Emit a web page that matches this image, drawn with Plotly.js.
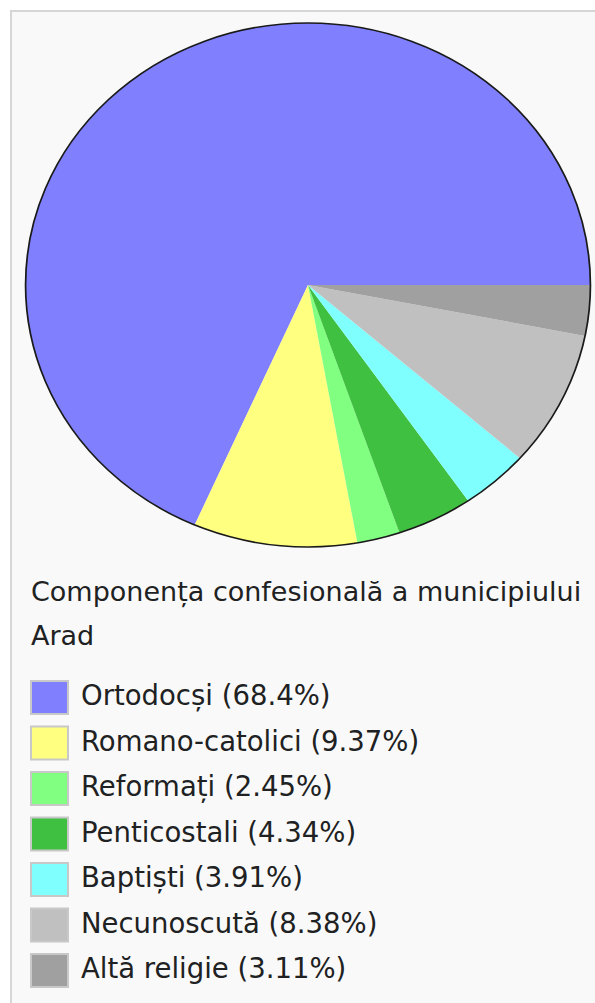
<!DOCTYPE html>
<html>
<head>
<meta charset="utf-8">
<script src="https://cdn.plot.ly/plotly-3.0.1.min.js"></script>
<style>
  html, body { margin: 0; padding: 0; background: #ffffff; }
  #page { position: absolute; left: 0; top: 0; width: 595px; height: 1003px; overflow: hidden; }
  #legendfig { position: absolute; left: 0; top: 0; width: 595px; height: 1003px; }
  #piefig { position: absolute; left: 37.5px; top: 15px; width: 540px; height: 540px;
            transform: scaleX(1.078); transform-origin: 270px 270px; }
</style>
</head>
<body>
<div id="page">
  <div id="legendfig"></div>
  <div id="piefig"></div>
</div>
<script>
// ---- data ----
var chartTitleLines = ['Componența confesională a municipiului', 'Arad'];
var labels = ['Ortodocși', 'Romano-catolici', 'Reformați', 'Penticostali', 'Baptiști', 'Necunoscută', 'Altă religie'];
var values = [68.4, 9.37, 2.45, 4.34, 3.91, 8.38, 3.11];
var colors = ['#8080ff', '#ffff80', '#80ff80', '#40c040', '#80ffff', '#c0c0c0', '#a0a0a0'];

var FONT = 'DejaVu Sans, Verdana, sans-serif';
var TEXTCOL = '#202122';

// First slice starts at 3 o'clock and the slices run counterclockwise.
// Plotly's counterclockwise mode places the first slice clockwise of `rotation`,
// so shift the rotation by the first slice's sweep.
var total = values.reduce(function (a, b) { return a + b; }, 0);
var startRotation = 90 - values[0] / total * 360;

// ---- pie ----
Plotly.newPlot('piefig', [{
  type: 'pie',
  labels: labels,
  values: values,
  marker: { colors: colors, line: { width: 0 } },
  sort: false,
  direction: 'counterclockwise',
  rotation: startRotation,
  textinfo: 'none',
  hoverinfo: 'none',
  showlegend: false
}], {
  width: 540, height: 540,
  margin: { l: 8, r: 8, t: 8, b: 8 },
  paper_bgcolor: 'rgba(0,0,0,0)',
  plot_bgcolor: 'rgba(0,0,0,0)',
  showlegend: false,
  shapes: [{
    type: 'circle', xref: 'paper', yref: 'paper',
    x0: 0, y0: 0, x1: 1, y1: 1,
    line: { color: '#1a1a1a', width: 1.6 }
  }]
}, { displayModeBar: false, staticPlot: true });

// ---- legend / caption ----
var shapes = [{
  type: 'rect', xref: 'x', yref: 'y',
  x0: 11, y0: 11, x1: 620, y1: 1030,
  fillcolor: '#f9f9f9',
  line: { color: '#d6d6d6', width: 2 },
  layer: 'below'
}];
var annotations = [];

var titleBase = 592;
chartTitleLines.forEach(function (t, i) {
  annotations.push({
    xref: 'x', yref: 'y', x: 29, y: titleBase + i * 43.5,
    xanchor: 'left', yanchor: 'middle', showarrow: false,
    text: t, font: { family: FONT, size: 27, color: TEXTCOL }
  });
});

var rowTop = 680, rowStep = 45.5;
labels.forEach(function (lab, i) {
  var y0 = rowTop + i * rowStep;
  shapes.push({
    type: 'rect', xref: 'x', yref: 'y',
    x0: 31, x1: 68, y0: y0 + 1, y1: y0 + 34,
    fillcolor: colors[i],
    line: { color: '#c8c8c8', width: 2 }
  });
  annotations.push({
    xref: 'x', yref: 'y', x: 79, y: y0 + 15,
    xanchor: 'left', yanchor: 'middle', showarrow: false,
    text: lab + ' (' + values[i] + '%)',
    font: { family: FONT, size: 27.5, color: TEXTCOL }
  });
});

Plotly.newPlot('legendfig', [], {
  width: 595, height: 1003,
  margin: { l: 0, r: 0, t: 0, b: 0 },
  paper_bgcolor: '#ffffff',
  plot_bgcolor: 'rgba(0,0,0,0)',
  xaxis: { range: [0, 595], visible: false, fixedrange: true },
  yaxis: { range: [1003, 0], visible: false, fixedrange: true },
  shapes: shapes,
  annotations: annotations,
  showlegend: false
}, { displayModeBar: false, staticPlot: true });
</script>
</body>
</html>
